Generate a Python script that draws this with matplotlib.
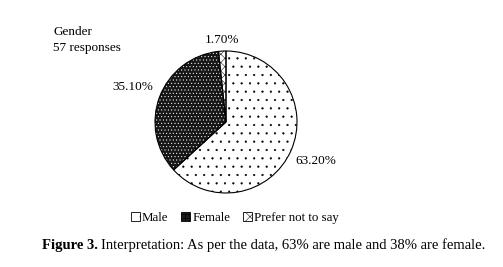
import matplotlib
matplotlib.use("Agg")
import matplotlib.pyplot as plt
from matplotlib.patches import Patch
import numpy as np

plt.rcParams['font.family'] = ['Liberation Serif', 'DejaVu Serif']
plt.rcParams['hatch.linewidth'] = 0.35

# data
categories = ['Male', 'Female', 'Prefer not to say']
shares = [63.2, 35.1, 1.7]
pct_labels = ['63.20%', '35.10%', '1.70%']
hatches = ['..', '.....', 'xxxx']
faces = ['white', '#161616', 'white']
hatch_cols = ['black', 'white', 'black']
label_dist = [1.38, 1.40, 1.16]

fig = plt.figure(figsize=(5.03, 2.67), dpi=100)
fig.patch.set_facecolor('white')

# pie axes sized so that the circle is 142 px wide, centred at (226, 122)
ax = fig.add_axes([155 / 503, (267 - 193) / 267, 142 / 503, 142 / 267])

wedges, _ = ax.pie(shares, startangle=90, counterclock=False,
                   colors=faces, wedgeprops=dict(linewidth=0))
for w, h, c in zip(wedges, hatches, hatch_cols):
    w.set_hatch(h)
    w.set_edgecolor(c)

# black outlines on top
outline, _ = ax.pie(shares, startangle=90, counterclock=False,
                    wedgeprops=dict(fill=False, edgecolor='black', linewidth=0.8))

for w, lab, d in zip(wedges, pct_labels, label_dist):
    ang = np.deg2rad((w.theta1 + w.theta2) / 2)
    ax.text(d * np.cos(ang), d * np.sin(ang), lab, ha='center', va='center',
            fontsize=9.5)

ax.set_xlim(-1, 1)
ax.set_ylim(-1, 1)
ax.set_aspect('equal')

fig.text(53 / 503, 1 - 32 / 267, 'Gender', fontsize=9.5, va='center')
fig.text(53 / 503, 1 - 48 / 267, '57 responses', fontsize=9.5, va='center')

handles = [Patch(facecolor=f, edgecolor='black', hatch=h, linewidth=0.6)
           for f, h in zip(['white', '#1c1c1c', 'white'], ['.', '++++', 'xx'])]
fig.legend(handles, categories, loc='center', bbox_to_anchor=(235 / 503, 1 - 218 / 267),
           ncol=3, frameon=False, fontsize=9.3, handlelength=0.7, handleheight=0.7,
           handletextpad=0.15, columnspacing=1.0, borderpad=0)

# caption: bold figure number then plain text
fig.canvas.draw()
r = fig.canvas.get_renderer()
t1 = fig.text(42 / 503, 1 - 245 / 267, 'Figure 3.', fontsize=10.5, fontweight='bold',
              va='center')
bb = t1.get_window_extent(renderer=r)
fig.text((bb.x1 + 3) / 503, 1 - 245 / 267,
         'Interpretation: As per the data, 63% are male and 38% are female.',
         fontsize=10.5, va='center')

fig.savefig('out.png', dpi=100)
